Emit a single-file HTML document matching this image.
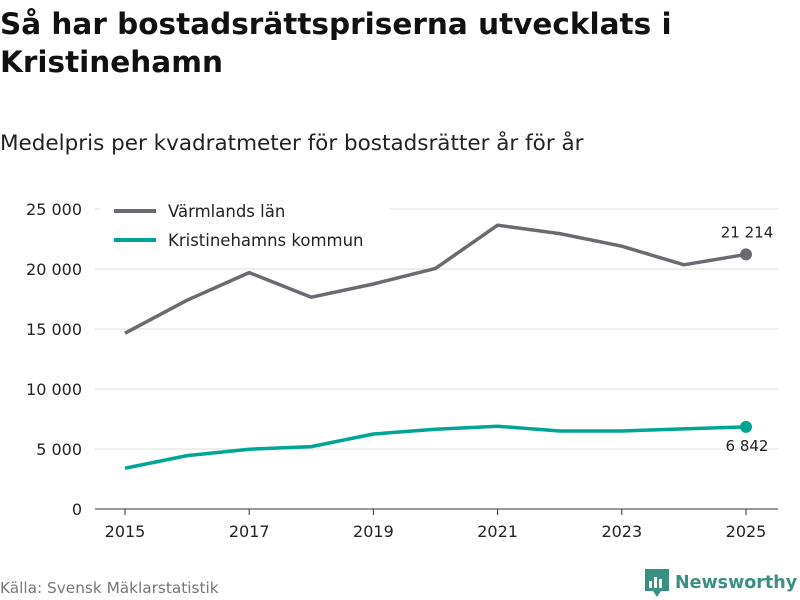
<!DOCTYPE html>
<html><head><meta charset="utf-8"><style>
body{margin:0;width:800px;height:600px;background:#fff;font-family:"DejaVu Sans","Liberation Sans",sans-serif;overflow:hidden;position:relative}
h1{position:absolute;left:0;top:5px;margin:0;font-size:29.5px;line-height:38px;font-weight:bold;color:#111;width:790px}
.sub{position:absolute;left:0;top:131px;font-size:21.5px;color:#222}
.src{position:absolute;left:0;top:579px;font-size:15.3px;color:#777}
.logo{position:absolute;left:645px;top:569px;font-size:17.5px;font-weight:bold;color:#3a8f84;display:flex;align-items:center;gap:6px}
svg text{font-family:"DejaVu Sans","Liberation Sans",sans-serif}
</style></head><body>
<h1>Så har bostadsrättspriserna utvecklats i Kristinehamn</h1>
<div class="sub">Medelpris per kvadratmeter för bostadsrätter år för år</div>
<svg id="chart" width="800" height="600" style="position:absolute;left:0;top:0"></svg>
<div class="src">Källa: Svensk Mäklarstatistik</div>
<div class="logo"><svg width="24" height="28" viewBox="0 0 24 28"><path d="M0 0H24V22H16L12 28L8 22H0Z" fill="#3a8f84"/><rect x="4" y="12" width="3" height="7" fill="#fff"/><rect x="9" y="8" width="3" height="11" fill="#fff"/><rect x="14" y="10" width="3" height="9" fill="#fff"/></svg><span>Newsworthy</span></div>
<script>
const years=[2015,2016,2017,2018,2019,2020,2021,2022,2023,2024,2025];
const varmland=[14650,17400,19700,17650,18750,20050,23650,22950,21900,20350,21214];
const kristinehamn=[3400,4450,4980,5200,6250,6650,6900,6500,6500,6680,6842];
const yTicks=[0,5000,10000,15000,20000,25000];
const xTicks=[2015,2017,2019,2021,2023,2025];
const svg=document.getElementById('chart');
const NS='http://www.w3.org/2000/svg';
const x=v=>125+(v-2015)*62.1;
const y=v=>509-v*0.012;
const fmt=v=>v.toLocaleString('sv-SE').replace(/\s/g,' ');
function mk(t,a,txt){const e=document.createElementNS(NS,t);for(const k in a)e.setAttribute(k,a[k]);if(txt!=null)e.textContent=txt;svg.appendChild(e);return e;}
yTicks.forEach(v=>{
 const l=mk('line',{x1:95,x2:778,y1:y(v),y2:y(v),stroke:v===0?'#333':'#ddd','stroke-width':1});
 
 
 const t=mk('text',{x:82,y:y(v)+6,'text-anchor':'end','font-size':16,fill:'#222'},v===0?'0':fmt(v));
 
 
});
xTicks.forEach(v=>{
 const l=mk('line',{x1:x(v),x2:x(v),y1:509,y2:515,stroke:'#333'});
 
 
 const t=mk('text',{x:x(v),y:537,'text-anchor':'middle','font-size':16,fill:'#222'},String(v));
 
 
});
function series(vals,color,name,labelDy){
 const p=mk('polyline',{points:vals.map((v,i)=>x(years[i])+','+y(v)).join(' '),fill:'none',stroke:color,'stroke-width':3.5,'stroke-linejoin':'round'});
 
 
 const n=vals.length-1;
 const c=mk('circle',{cx:x(years[n]),cy:y(vals[n]),r:6,fill:color});
 
 
 const t=mk('text',{x:x(years[n])+1,y:y(vals[n])+labelDy,'text-anchor':'middle','font-size':15,fill:'#222'},fmt(vals[n]));
 
 
}
mk('rect',{x:100,y:196,width:290,height:62,fill:'#fff'});
series(varmland,'#6b6a70','varmland',-17);
series(kristinehamn,'#00a596','kristinehamn',24);
[['Värmlands län','#6b6a70',211],['Kristinehamns kommun','#00a596',240]].forEach(([lbl,col,yy])=>{
 const l=mk('line',{x1:114,x2:156,y1:yy,y2:yy,stroke:col,'stroke-width':4});
 
 
 const t=mk('text',{x:168,y:yy+6,'font-size':16.5,fill:'#222'},lbl);
 
 
});
</script>
</body></html>
